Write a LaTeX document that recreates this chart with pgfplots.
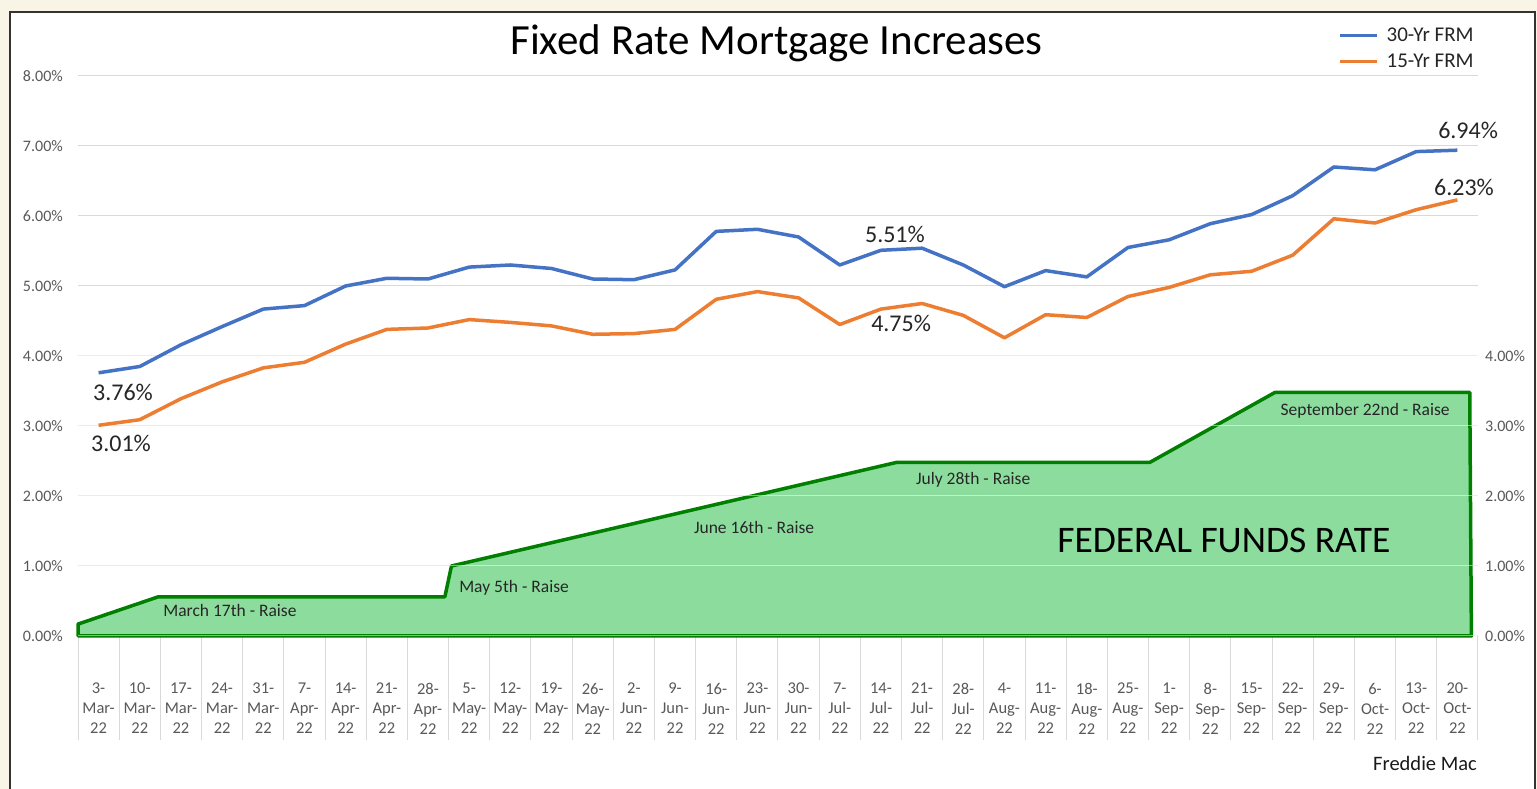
\documentclass[border=0pt]{standalone}
\usepackage{fontspec}
\setmainfont{Carlito}
\usepackage{pgfplots}
\pgfplotsset{compat=1.18}
\usepackage{pgfplotstable}

\definecolor{bg}{HTML}{F9F5E6}
\definecolor{blueline}{HTML}{4472C4}
\definecolor{orangeline}{HTML}{ED7D31}
\definecolor{areafill}{HTML}{8CDD9D}
\definecolor{areaedge}{HTML}{007F00}
\definecolor{gridc}{HTML}{D9D9D9}
\definecolor{ticktext}{HTML}{595959}
\definecolor{labeltext}{HTML}{262626}

\pgfplotstableread{
x thirty fifteen
0 3.76 3.01
1 3.85 3.09
2 4.16 3.39
3 4.42 3.63
4 4.67 3.83
5 4.72 3.91
6 5.00 4.17
7 5.11 4.38
8 5.10 4.40
9 5.27 4.52
10 5.30 4.48
11 5.25 4.43
12 5.10 4.31
13 5.09 4.32
14 5.23 4.38
15 5.78 4.81
16 5.81 4.92
17 5.70 4.83
18 5.30 4.45
19 5.51 4.67
20 5.54 4.75
21 5.30 4.58
22 4.99 4.26
23 5.22 4.59
24 5.13 4.55
25 5.55 4.85
26 5.66 4.98
27 5.89 5.16
28 6.02 5.21
29 6.29 5.44
30 6.70 5.96
31 6.66 5.90
32 6.92 6.09
33 6.94 6.23
}\rates

\pgfplotstableread{
x ffr
-0.5 0
-0.5 0.17
1.45 0.56
8.41 0.56
8.57 1.00
19.38 2.48
25.53 2.48
28.57 3.48
33.30 3.48
33.34 0
}\fedfunds

\begin{document}
\begin{tikzpicture}[x=1pt,y=1pt]
\fill[bg] (0,0) rectangle (1537,789);
\fill[white] (10,0) rectangle (1535,777);
\draw[line width=1.6pt, black!80] (10,0) -- (10,777) -- (1535,777) -- (1535,0);

\begin{axis}[
  at={(78pt,153pt)}, anchor=south west, scale only axis,
  width=1400pt, height=560pt,
  xmin=-0.5, xmax=33.5, ymin=0, ymax=8,
  clip=false,
  axis lines*=left,
  y axis line style={draw=none},
  x axis line style={draw=gridc, line width=1pt},
  /pgf/number format/assume math mode=true,
  xtick={0,...,33},
  xticklabels={{3-\\Mar-\\22},{10-\\Mar-\\22},{17-\\Mar-\\22},{24-\\Mar-\\22},{31-\\Mar-\\22},{7-\\Apr-\\22},{14-\\Apr-\\22},{21-\\Apr-\\22},{28-\\Apr-\\22},{5-\\May-\\22},{12-\\May-\\22},{19-\\May-\\22},{26-\\May-\\22},{2-\\Jun-\\22},{9-\\Jun-\\22},{16-\\Jun-\\22},{23-\\Jun-\\22},{30-\\Jun-\\22},{7-\\Jul-\\22},{14-\\Jul-\\22},{21-\\Jul-\\22},{28-\\Jul-\\22},{4-\\Aug-\\22},{11-\\Aug-\\22},{18-\\Aug-\\22},{25-\\Aug-\\22},{1-\\Sep-\\22},{8-\\Sep-\\22},{15-\\Sep-\\22},{22-\\Sep-\\22},{29-\\Sep-\\22},{6-\\Oct-\\22},{13-\\Oct-\\22},{20-\\Oct-\\22}},
  xticklabel style={font=\fontsize{16.5}{20}\selectfont, text=ticktext, align=center, inner sep=0pt, yshift=-47pt},
  minor xtick={-0.5,0.5,...,33.5},
  major tick length=0pt,
  minor tick length=104pt,
  tick align=outside,
  minor tick style={draw=gridc, line width=1pt},
  ytick={0,1,...,8},
  yticklabel={\pgfmathprintnumber[fixed,fixed zerofill,precision=2]{\tick}\%},
  yticklabel style={font=\fontsize{16}{19}\selectfont, text=ticktext, inner sep=0pt, xshift=-15pt},
  ymajorgrids,
  grid style={draw=gridc, line width=1pt},
]
\addplot[fill=areafill, draw=areaedge, line width=3.5pt, line join=round] table[x=x,y=ffr]{\fedfunds} -- cycle;
\node[font=\fontsize{17.5}{20}\selectfont, text=labeltext] at (axis cs:3.19,0.371) {March 17th - Raise};
\node[font=\fontsize{17.5}{20}\selectfont, text=labeltext] at (axis cs:10.09,0.686) {May 5th - Raise};
\node[font=\fontsize{17.5}{20}\selectfont, text=labeltext] at (axis cs:15.92,1.557) {June 16th - Raise};
\node[font=\fontsize{17.5}{20}\selectfont, text=labeltext] at (axis cs:21.24,2.229) {July 28th - Raise};
\node[font=\fontsize{17.5}{20}\selectfont, text=labeltext] at (axis cs:30.76,3.214) {September 22nd - Raise};
\node[font=\fontsize{37.5}{40}\selectfont, text=black] at (axis cs:27.33,1.371) {FEDERAL FUNDS RATE};
\end{axis}

\begin{axis}[
  at={(78pt,153pt)}, anchor=south west, scale only axis,
  width=1400pt, height=560pt,
  xmin=-0.5, xmax=33.5, ymin=0, ymax=8,
  clip=false,
  hide x axis,
  axis y line*=right,
  y axis line style={draw=none},
  /pgf/number format/assume math mode=true,
  ytick={0,1,...,4},
  major tick length=0pt,
  yticklabel={\pgfmathprintnumber[fixed,fixed zerofill,precision=2]{\tick}\%},
  yticklabel style={font=\fontsize{16}{19}\selectfont, text=ticktext, inner sep=0pt, anchor=west, xshift=7pt},
  ymajorgrids,
  grid style={draw=white, opacity=0.5, line width=1pt},
  legend style={at={(0.9,1.090)}, anchor=north west, draw=none, fill=none,
    font=\fontsize{21}{24}\selectfont, text=labeltext, inner sep=0pt,
    row sep=7pt, nodes={inner sep=2pt},
    /tikz/every odd column/.append style={column sep=6pt}},
  legend cell align=left,
  legend image code/.code={\draw[#1, line width=3.5pt] (0pt,0pt) -- (37pt,0pt);},
]
\addplot[blueline, line width=3.5pt, line join=round] table[x=x,y=thirty]{\rates};
\addlegendentry{30-Yr FRM}
\addplot[orangeline, line width=3.5pt, line join=round] table[x=x,y=fifteen]{\rates};
\addlegendentry{15-Yr FRM}
\node[font=\fontsize{24}{28}\selectfont, text=labeltext] at (axis cs:0.593,3.486) {3.76\%};
\node[font=\fontsize{24}{28}\selectfont, text=labeltext] at (axis cs:0.544,2.757) {3.01\%};
\node[font=\fontsize{24}{28}\selectfont, text=labeltext] at (axis cs:19.34,5.743) {5.51\%};
\node[font=\fontsize{24}{28}\selectfont, text=labeltext] at (axis cs:19.49,4.471) {4.75\%};
\node[font=\fontsize{24}{28}\selectfont, text=labeltext] at (axis cs:33.26,7.229) {6.94\%};
\node[font=\fontsize{24}{28}\selectfont, text=labeltext] at (axis cs:33.16,6.414) {6.23\%};
\end{axis}

\node[font=\fontsize{43}{50}\selectfont, anchor=base] at (776.5,734) {Fixed Rate Mortgage Increases};
\node[font=\fontsize{20.5}{24}\selectfont, anchor=base east, inner sep=0pt, text=black!90] at (1477,18) {Freddie Mac};

\pgfresetboundingbox
\useasboundingbox (0,0) rectangle (1537,789);
\end{tikzpicture}
\end{document}
